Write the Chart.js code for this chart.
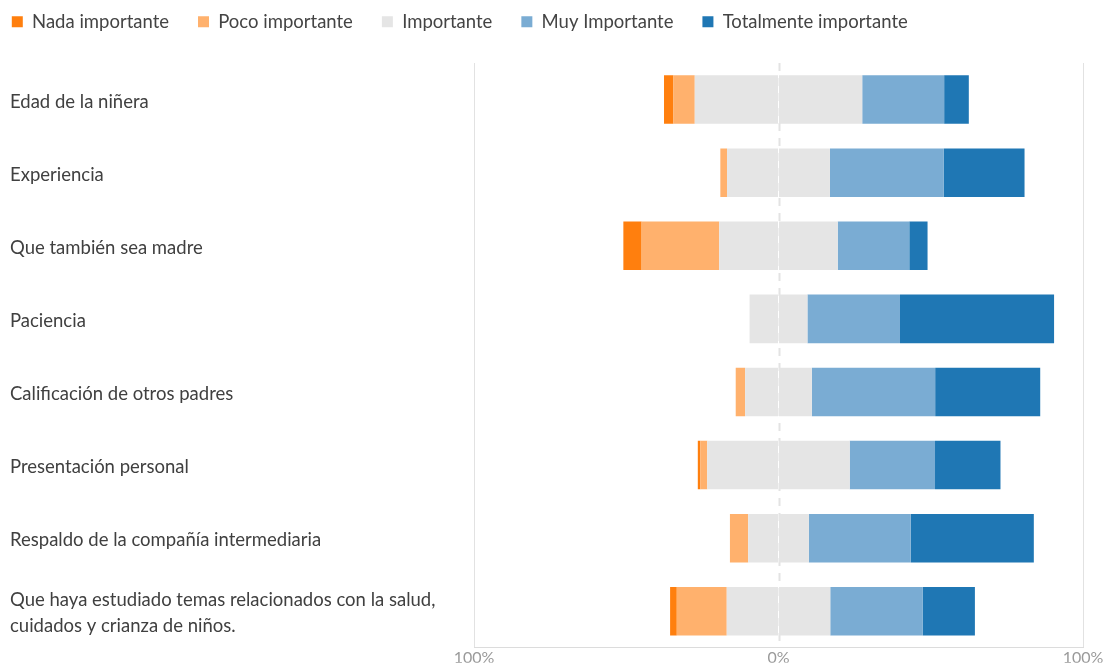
<!DOCTYPE html>
<html>
<head>
<meta charset="utf-8">
<script src="https://cdn.jsdelivr.net/npm/chart.js@4"></script>
<style>
  html, body { margin: 0; padding: 0; background: #fff; }
  #wrap { width: 1104px; height: 664px; position: relative; }
</style>
</head>
<body>
<div id="wrap"><canvas id="chart"></canvas></div>
<script>
// Survey: how important is each attribute when choosing a babysitter (% of answers)
const categories = [
  'Edad de la niñera',
  'Experiencia',
  'Que también sea madre',
  'Paciencia',
  'Calificación de otros padres',
  'Presentación personal',
  'Respaldo de la compañía intermediaria',
  ['Que haya estudiado temas relacionados con la salud,', 'cuidados y crianza de niños.']
];
const nadaImportante      = [3.1, 0,    6.0,  0,    0,    0.8,  0,    2.2];
const pocoImportante      = [7.0, 2.2,  25.5, 0,    3.1,  2.3,  6.0,  16.4];
const importante          = [55.0, 33.8, 38.9, 19.0, 21.9, 46.8, 19.9, 34.0];
const muyImportante       = [26.9, 37.4, 23.5, 30.4, 40.5, 28.0, 33.5, 30.4];
const totalmenteImportante = [8.1, 26.5, 6.0,  50.6, 34.5, 21.5, 40.4, 17.1];
const xTickValues = [-100, 0, 100];

const FONT = "'Segoe UI', Lato, 'Open Sans', sans-serif";
const colors = {
  nada: '#ff7f0e',
  poco: '#ffb16d',
  imp: '#e5e5e5',
  muy: '#7aacd3',
  total: '#1f77b4'
};

// Neutral answers are split in half around zero; negatives grow to the left.
const half = importante.map(v => v / 2);
const neg = arr => arr.map(v => -v);

const datasets = [
  { label: 'Importante', data: neg(half), backgroundColor: colors.imp },
  { label: 'Poco importante', data: neg(pocoImportante), backgroundColor: colors.poco },
  { label: 'Nada importante', data: neg(nadaImportante), backgroundColor: colors.nada },
  { label: 'Importante', data: half, backgroundColor: colors.imp, hideInLegend: true },
  { label: 'Muy Importante', data: muyImportante, backgroundColor: colors.muy },
  { label: 'Totalmente importante', data: totalmenteImportante, backgroundColor: colors.total }
];
const legendRank = { 2: 0, 1: 1, 0: 2, 4: 3, 5: 4 };

// Dashed centre line at 0%, drawn under the bars
const centreLine = {
  id: 'centreLine',
  beforeDatasetsDraw(chart) {
    const { ctx, chartArea, scales } = chart;
    const x = Math.round(scales.x.getPixelForValue(0)) + 0.5;
    ctx.save();
    ctx.strokeStyle = '#e3e3e3';
    ctx.lineWidth = 2;
    ctx.setLineDash([8, 7]);
    ctx.beginPath();
    ctx.moveTo(x, chartArea.top);
    ctx.lineTo(x, chartArea.bottom);
    ctx.stroke();
    ctx.restore();
  }
};

// Legend band height and item placement
const legendBand = {
  id: 'legendBand',
  afterInit(chart) {
    const legend = chart.legend;
    const fit = legend.fit;
    legend.fit = function () { fit.call(this); this.height = 63; };
    const draw = legend.draw;
    legend.draw = function () {
      const ctx = this.ctx;
      ctx.save();
      ctx.translate(-27.2, -16.5);
      draw.call(this);
      ctx.restore();
    };
  }
};

new Chart(document.getElementById('chart'), {
  type: 'bar',
  data: { labels: categories, datasets },
  options: {
    indexAxis: 'y',
    responsive: true,
    maintainAspectRatio: false,
    animation: false,
    layout: { padding: { left: 10, right: 21, top: 0, bottom: 0 } },
    datasets: {
      bar: { categoryPercentage: 0.83, barPercentage: 0.8, borderWidth: 0 }
    },
    scales: {
      x: {
        stacked: true,
        min: -100,
        max: 100,
        afterBuildTicks(scale) { scale.ticks = xTickValues.map(v => ({ value: v })); },
        afterFit(scale) { scale.height = 15; },
        ticks: {
          padding: 0,
          color: '#9a9a9a',
          font: { family: FONT, size: 16 },
          callback: v => Math.abs(v) + '%'
        },
        grid: {
          drawTicks: false,
          color: ctx => (ctx.tick && ctx.tick.value === 0) ? 'rgba(0,0,0,0)' : '#e2e2e2',
          lineWidth: 1
        },
        border: { display: true, color: '#dcdcdc' }
      },
      y: {
        stacked: true,
        afterFit(scale) { scale.width = 464; },
        grid: { display: false },
        border: { display: false },
        ticks: {
          crossAlign: 'far',
          labelOffset: 2,
          color: '#404040',
          font: { family: FONT, size: 18.5, lineHeight: 1.42 }
        }
      }
    },
    plugins: {
      legend: {
        position: 'top',
        align: 'start',
        labels: {
          boxWidth: 11,
          boxHeight: 11,
          padding: 29,
          color: '#444',
          font: { family: FONT, size: 18.5 },
          filter: item => !datasets[item.datasetIndex].hideInLegend,
          sort: (a, b) => legendRank[a.datasetIndex] - legendRank[b.datasetIndex]
        }
      },
      tooltip: { enabled: false }
    }
  },
  plugins: [centreLine, legendBand]
});
</script>
</body>
</html>
